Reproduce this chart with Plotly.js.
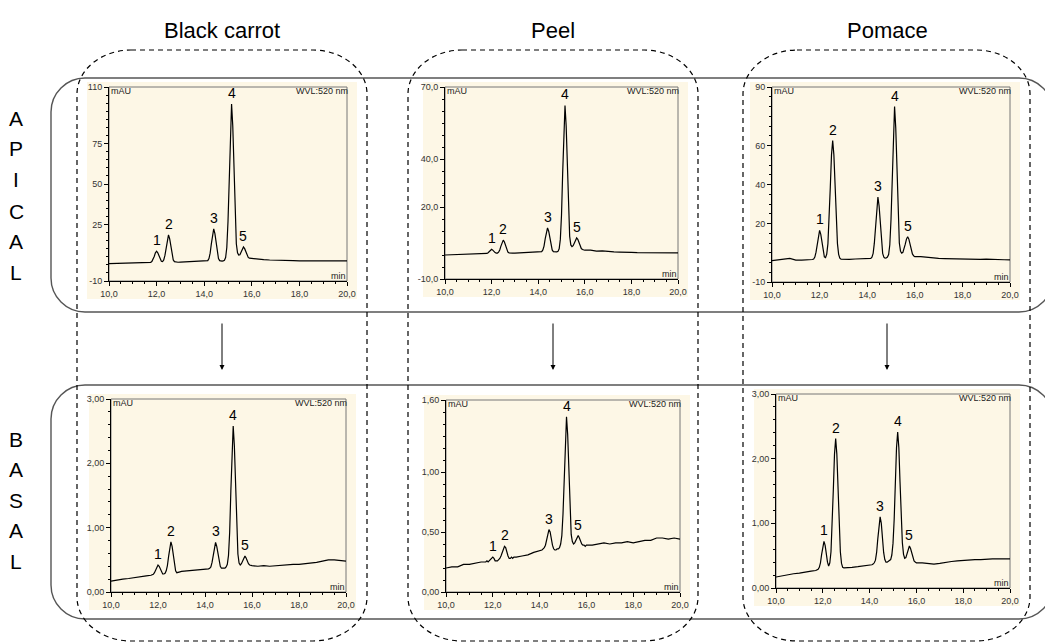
<!DOCTYPE html>
<html>
<head>
<meta charset="utf-8">
<script src="https://cdn.plot.ly/plotly-3.0.1.min.js"></script>
<style>html,body{margin:0;padding:0;background:#fff;}#chart{width:1045px;height:644px;}</style>
</head>
<body>
<div id="chart"></div>
<script>
// ---------- DATA ----------
const columnTitles = ['Black carrot', 'Peel', 'Pomace'];
const rowApical = ['A', 'P', 'I', 'C', 'A', 'L'];
const rowBasal = ['B', 'A', 'S', 'A', 'L'];
const peakLabels = ['1', '2', '3', '4', '5'];

// retention time (min)
const time = [
  10.0,10.25,10.5,10.75,11.0,11.25,11.5,
  11.7,11.75,11.8,11.85,11.9,11.95,12.0,12.05,12.1,12.15,12.2,12.25,12.3,12.35,12.4,12.45,12.5,12.55,12.6,12.65,12.7,12.75,12.8,12.85,12.9,
  13.0,13.25,13.5,13.75,14.0,
  14.1,14.15,14.2,14.25,14.3,14.35,14.4,14.45,14.5,14.55,14.6,14.65,14.7,14.75,14.8,14.85,14.9,14.95,15.0,15.05,15.1,15.15,15.2,15.25,15.3,15.35,15.4,15.45,15.5,15.55,15.6,15.65,15.7,15.75,15.8,15.85,15.9,15.95,16.0,
  16.25,16.5,16.75,17.0,17.25,17.5,17.75,18.0,18.25,18.5,18.75,19.0,19.25,19.5,19.75,20.0
];

// absorbance (mAU)
const apicalBlackCarrot = [
  0.8,0.9,1.0,1.0,1.1,1.2,1.3,
  1.4,1.55,2.0,3.2,5.2,7.4,8.4,7.4,5.2,3.2, 2.2,2.0,3.0,5.8,10.7,16.1,18.5,16.1,10.7,5.8, 3.0,2.0,1.7,1.6,1.6,
  1.7,1.8,1.9,2.0,2.1,
  2.3,2.6,3.9,7.2,13.0,19.3,22.2,19.3,13.0,7.2, 3.9,2.6,2.3,2.3,2.4,2.8,4.5,10.7,26.8,54.9, 85.6,99.5,86.0,55.5,28.0,13.0,7.5,6.0,6.2,7.8, 9.8,11.0,10.0,7.8,5.8,4.6,4.1,4.0,4.0,
  3.6,3.2,3.0,2.8,2.7,2.6,2.6,2.5,2.5,2.5,2.6,2.9,2.7,2.5,2.5,2.5
];
const apicalPeel = [
  0.0,0.1,0.15,0.2,0.25,0.35,0.4,
  0.5,0.5,0.65,0.95,1.45,2.05,2.4,2.05,1.45,1.0, 0.75,0.8,1.2,2.1,3.7,5.4,6.2,5.4,3.7,2.1, 1.2,0.9,0.8,0.8,0.8,
  0.8,0.9,1.0,1.0,1.1,
  1.2,1.4,2.1,3.7,6.7,9.9,11.3,9.9,6.7,3.7, 2.1,1.4,1.3,1.3,1.3,1.5,2.6,6.5,16.6,34.2, 53.6,62.3,53.8,34.6,17.3,7.8,4.2,3.5,3.9,5.2, 6.5,7.1,6.5,5.0,3.6,2.7,2.3,2.1,2.0,
  2.0,1.6,1.7,1.4,1.3,1.2,1.3,1.1,1.0,1.0,1.0,1.0,1.0,0.9,0.9,0.9
];
const apicalPomace = [
  1.0,1.2,1.7,2.1,1.2,1.2,1.3,
  1.55,1.8,2.8,5.3,9.6,14.4,16.5,14.4,9.6,5.3, 2.9,2.5,4.3,9.7,21.0,38.7,55.2,62.5,55.2,38.7, 21.0,9.7,4.2,2.2,1.7,
  1.6,1.6,1.8,1.9,2.0,
  2.0,2.1,2.7,4.7,9.9,19.0,29.0,33.5,29.0,19.0, 9.9,4.7,2.7,2.2,2.3,2.8,4.1,9.1,21.9,44.4, 68.9,80.0,68.9,44.5,22.3,10.0,5.8,4.8,5.2,6.8, 9.4,12.0,13.2,12.0,9.2,6.3,4.4,3.4,3.0,
  3.0,2.6,2.3,2.1,2.0,1.9,1.8,1.7,1.7,1.6,1.6,1.7,1.5,1.4,1.4,1.3
];
const basalBlackCarrot = [
  0.17,0.19,0.20,0.21,0.22,0.24,0.25,
  0.26,0.265,0.275,0.30,0.35,0.40,0.42,0.40,0.35,0.30, 0.28,0.28,0.29,0.33,0.41,0.55,0.71,0.78,0.71,0.55, 0.41,0.33,0.30,0.30,0.31,
  0.32,0.33,0.33,0.34,0.35,
  0.36,0.36,0.37,0.39,0.46,0.58,0.71,0.77,0.71,0.58, 0.46,0.40,0.37,0.37,0.37,0.37,0.39,0.43,0.57,0.93, 1.57,2.27,2.58,2.27,1.57,0.95,0.59,0.45,0.42,0.44, 0.49,0.53,0.56,0.53,0.48,0.44,0.42,0.41,0.41,
  0.40,0.41,0.40,0.41,0.42,0.42,0.43,0.43,0.44,0.44,0.46,0.48,0.50,0.50,0.49,0.48
];
const basalPeel = [
  0.20,0.21,0.21,0.23,0.23,0.24,0.25,
  0.25,0.26,0.25,0.26,0.27,0.28,0.29,0.28,0.26,0.26, 0.26,0.27,0.28,0.30,0.33,0.36,0.38,0.37,0.33,0.30, 0.28,0.28,0.29,0.28,0.29,
  0.29,0.30,0.31,0.33,0.34,
  0.35,0.36,0.37,0.39,0.44,0.50,0.52,0.50,0.44,0.39, 0.36,0.35,0.35,0.36,0.36,0.37,0.40,0.47,0.65,0.96, 1.31,1.46,1.31,0.96,0.66,0.48,0.42,0.40,0.41,0.43, 0.46,0.47,0.45,0.42,0.40,0.39,0.39,0.38,0.39,
  0.39,0.40,0.41,0.40,0.41,0.41,0.42,0.41,0.42,0.43,0.43,0.45,0.45,0.44,0.45,0.44
];
const basalPomace = [
  0.17,0.19,0.21,0.22,0.23,0.24,0.26,
  0.27,0.28,0.29,0.32,0.39,0.52,0.66,0.72,0.66,0.52, 0.40,0.34,0.39,0.56,0.94,1.52,2.07,2.31,2.07,1.52, 0.94,0.56,0.38,0.32,0.31,
  0.31,0.32,0.33,0.34,0.35,
  0.36,0.37,0.39,0.43,0.55,0.76,1.00,1.10,1.00,0.76, 0.55,0.44,0.40,0.40,0.41,0.42,0.44,0.51,0.69,1.06, 1.64,2.17,2.41,2.17,1.64,1.06,0.70,0.52,0.46,0.47, 0.54,0.61,0.65,0.61,0.53,0.46,0.42,0.40,0.39,
  0.39,0.38,0.37,0.38,0.40,0.41,0.42,0.43,0.43,0.44,0.44,0.45,0.45,0.45,0.45,0.45
];

// approximate retention times of the labelled peaks
const peaksApicalBlackCarrot = [12.0, 12.5, 14.4, 15.15, 15.65];
const peaksApicalPeel = [12.0, 12.5, 14.4, 15.15, 15.65];
const peaksApicalPomace = [12.0, 12.55, 14.45, 15.15, 15.7];
const peaksBasalBlackCarrot = [12.0, 12.55, 14.45, 15.2, 15.7];
const peaksBasalPeel = [12.0, 12.5, 14.4, 15.15, 15.65];
const peaksBasalPomace = [12.05, 12.55, 14.45, 15.2, 15.7];

// axis ranges and ticks
const xRange = [10, 20];
const xTickVals = [10, 12, 14, 16, 18, 20];
const xTickText = ['10,0', '12,0', '14,0', '16,0', '18,0', '20,0'];
const yRangeApicalBlackCarrot = [-10, 110];
const yTickValsApicalBlackCarrot = [-10, 25, 50, 75, 110];
const yTickTextApicalBlackCarrot = ['-10', '25', '50', '75', '110'];
const yRangeApicalPeel = [-10, 70];
const yTickValsApicalPeel = [-10, 20, 40, 70];
const yTickTextApicalPeel = ['-10,0', '20,0', '40,0', '70,0'];
const yRangeApicalPomace = [-10, 90];
const yTickValsApicalPomace = [-10, 20, 40, 60, 90];
const yTickTextApicalPomace = ['-10', '20', '40', '60', '90'];
const yRangeBasalBlackCarrot = [0, 3];
const yTickValsBasalBlackCarrot = [0, 1, 2, 3];
const yTickTextBasalBlackCarrot = ['0,00', '1,00', '2,00', '3,00'];
const yRangeBasalPeel = [0, 1.6];
const yTickValsBasalPeel = [0, 0.5, 1, 1.6];
const yTickTextBasalPeel = ['0,00', '0,50', '1,00', '1,60'];
const yRangeBasalPomace = [0, 3];
const yTickValsBasalPomace = [0, 1, 2, 3];
const yTickTextBasalPomace = ['0,00', '1,00', '2,00', '3,00'];
const unitLabel = 'mAU';
const wavelengthLabel = 'WVL:520 nm';
const timeUnitLabel = 'min';

// ---------- LAYOUT (pixel geometry) ----------
const W = 1045, H = 644;
const PX = v => v / W;
const PY = v => 1 - v / H;
const FONT = '"Liberation Sans", Arial, Helvetica, sans-serif';

const panels = [
  {y: apicalBlackCarrot, peaks: peaksApicalBlackCarrot, yr: yRangeApicalBlackCarrot, tv: yTickValsApicalBlackCarrot, tt: yTickTextApicalBlackCarrot, minor: 5, box: [109, 87, 347, 281]},
  {y: apicalPeel, peaks: peaksApicalPeel, yr: yRangeApicalPeel, tv: yTickValsApicalPeel, tt: yTickTextApicalPeel, minor: 5, box: [445, 87, 678, 279]},
  {y: apicalPomace, peaks: peaksApicalPomace, yr: yRangeApicalPomace, tv: yTickValsApicalPomace, tt: yTickTextApicalPomace, minor: 5, box: [772, 87, 1010, 282]},
  {y: basalBlackCarrot, peaks: peaksBasalBlackCarrot, yr: yRangeBasalBlackCarrot, tv: yTickValsBasalBlackCarrot, tt: yTickTextBasalBlackCarrot, minor: 0.2, box: [111, 399, 346, 592]},
  {y: basalPeel, peaks: peaksBasalPeel, yr: yRangeBasalPeel, tv: yTickValsBasalPeel, tt: yTickTextBasalPeel, minor: 0.1, box: [446, 400, 680, 592]},
  {y: basalPomace, peaks: peaksBasalPomace, yr: yRangeBasalPomace, tv: yTickValsBasalPomace, tt: yTickTextBasalPomace, minor: 0.2, box: [776, 394, 1010, 588]}
];

const traces = [];
const layout = {
  width: W, height: H,
  margin: {l: 0, r: 0, t: 0, b: 0},
  paper_bgcolor: '#ffffff',
  plot_bgcolor: 'rgba(0,0,0,0)',
  showlegend: false,
  font: {family: FONT, color: '#000'},
  shapes: [],
  annotations: []
};

const tickFont = {family: FONT, size: 9, color: '#333'};
const smallFont = {family: FONT, size: 9, color: '#222'};

panels.forEach((p, i) => {
  const n = i + 1;
  const xs = n === 1 ? '' : String(n);
  const [x0, y0, x1, y1] = p.box;
  traces.push({
    x: time, y: p.y, type: 'scatter', mode: 'lines',
    xaxis: 'x' + xs, yaxis: 'y' + xs,
    line: {color: '#000', width: 1.2}, hoverinfo: 'skip'
  });
  layout['xaxis' + xs] = {
    domain: [PX(x0), PX(x1)], range: xRange, anchor: 'y' + xs,
    tickmode: 'array', tickvals: xTickVals, ticktext: xTickText,
    ticks: 'outside', ticklen: 4, tickcolor: '#000', tickwidth: 1,
    minor: {tickmode: 'linear', tick0: 10, dtick: 0.5, ticks: 'outside', ticklen: 2, tickcolor: '#000'},
    showline: true, linecolor: '#000', linewidth: 1,
    showgrid: false, zeroline: false, tickfont: tickFont, fixedrange: true
  };
  layout['yaxis' + xs] = {
    domain: [PY(y1), PY(y0)], range: p.yr, anchor: 'x' + xs,
    tickmode: 'array', tickvals: p.tv, ticktext: p.tt,
    ticks: 'outside', ticklen: 4, tickcolor: '#000', tickwidth: 1,
    minor: {tickmode: 'linear', tick0: 0, dtick: p.minor, ticks: 'outside', ticklen: 2, tickcolor: '#000'},
    showline: true, linecolor: '#000', linewidth: 1,
    showgrid: false, zeroline: false, tickfont: tickFont, fixedrange: true
  };
  // beige chart background
  layout.shapes.push({
    type: 'rect', xref: 'paper', yref: 'paper', layer: 'below',
    x0: PX(x0 - 22), x1: PX(x1 + 10), y0: PY(y1 + 18), y1: PY(y0 - 5),
    fillcolor: '#FDF7E6', line: {width: 0}
  });
  // gray frame (top/right)
  layout.shapes.push({
    type: 'rect', xref: 'x' + xs + ' domain', yref: 'y' + xs + ' domain', layer: 'below',
    x0: 0, x1: 1, y0: 0, y1: 1, line: {color: '#777', width: 1}
  });
  // header texts
  layout.annotations.push({
    xref: 'x' + xs + ' domain', yref: 'y' + xs + ' domain', x: 0, y: 1,
    xanchor: 'left', yanchor: 'top', yshift: 3, text: unitLabel, showarrow: false, font: smallFont
  });
  layout.annotations.push({
    xref: 'x' + xs + ' domain', yref: 'y' + xs + ' domain', x: 1, y: 1,
    xanchor: 'right', yanchor: 'top', yshift: 3, xshift: 3, text: wavelengthLabel, showarrow: false, font: smallFont
  });
  layout.annotations.push({
    xref: 'x' + xs + ' domain', yref: 'y' + xs + ' domain', x: 1, y: 0,
    xanchor: 'right', yanchor: 'bottom', yshift: -2, xshift: 1, text: timeUnitLabel, showarrow: false, font: smallFont
  });
  // peak labels at the local maxima of the data
  p.peaks.forEach((pt, k) => {
    let best = -Infinity, bt = pt;
    time.forEach((t, j) => {
      if (Math.abs(t - pt) <= 0.1 && p.y[j] > best) { best = p.y[j]; bt = t; }
    });
    layout.annotations.push({
      xref: 'x' + xs, yref: 'y' + xs, x: bt, y: best,
      xanchor: 'center', yanchor: 'bottom', yshift: 1,
      text: peakLabels[k], showarrow: false,
      font: {family: FONT, size: 14, color: '#000'}
    });
  });
});

// rounded rectangle path in pixel coords -> paper coords
function roundRect(x0, y0, x1, y1, rx, ry) {
  const X = v => PX(v).toFixed(5), Y = v => PY(v).toFixed(5);
  return `M${X(x0 + rx)},${Y(y0)} L${X(x1 - rx)},${Y(y0)} C${X(x1 - rx * 0.45)},${Y(y0)} ${X(x1)},${Y(y0 + ry * 0.45)} ${X(x1)},${Y(y0 + ry)} ` +
         `L${X(x1)},${Y(y1 - ry)} C${X(x1)},${Y(y1 - ry * 0.45)} ${X(x1 - rx * 0.45)},${Y(y1)} ${X(x1 - rx)},${Y(y1)} ` +
         `L${X(x0 + rx)},${Y(y1)} C${X(x0 + rx * 0.45)},${Y(y1)} ${X(x0)},${Y(y1 - ry * 0.45)} ${X(x0)},${Y(y1 - ry)} ` +
         `L${X(x0)},${Y(y0 + ry)} C${X(x0)},${Y(y0 + ry * 0.45)} ${X(x0 + rx * 0.45)},${Y(y0)} ${X(x0 + rx)},${Y(y0)} Z`;
}

// row frames (solid)
[[51, 78, 1053, 312], [51, 385, 1053, 619]].forEach(b => {
  layout.shapes.push({
    type: 'path', xref: 'paper', yref: 'paper', layer: 'above',
    path: roundRect(b[0], b[1], b[2], b[3], 34, 34),
    line: {color: '#555', width: 1.4}
  });
});
// column frames (dashed)
[[77, 50, 367, 641], [408, 50, 698, 641], [743, 50, 1030, 641]].forEach(b => {
  layout.shapes.push({
    type: 'path', xref: 'paper', yref: 'paper', layer: 'above',
    path: roundRect(b[0], b[1], b[2], b[3], 54, 44),
    line: {color: '#000', width: 1.2, dash: '5px,4px'}
  });
});

// column titles and arrows
const colCenters = [222, 553, 887];
columnTitles.forEach((t, i) => {
  layout.annotations.push({
    xref: 'paper', yref: 'paper', x: PX(colCenters[i]), y: PY(30),
    xanchor: 'center', yanchor: 'middle', text: t, showarrow: false,
    font: {family: FONT, size: 22, color: '#000'}
  });
  layout.annotations.push({
    xref: 'paper', yref: 'paper', x: PX(colCenters[i]), y: PY(370),
    ax: 0, ay: -48, text: '', showarrow: true,
    arrowhead: 2, arrowsize: 1, arrowwidth: 1, arrowcolor: '#000'
  });
});

// row letters
const apicalY = [119, 149, 180, 211, 241, 272];
rowApical.forEach((c, i) => {
  layout.annotations.push({
    xref: 'paper', yref: 'paper', x: PX(16), y: PY(apicalY[i]),
    xanchor: 'center', yanchor: 'middle', text: c, showarrow: false,
    font: {family: FONT, size: 21, color: '#000'}
  });
});
const basalY = [439, 469, 500, 530, 561];
rowBasal.forEach((c, i) => {
  layout.annotations.push({
    xref: 'paper', yref: 'paper', x: PX(16), y: PY(basalY[i]),
    xanchor: 'center', yanchor: 'middle', text: c, showarrow: false,
    font: {family: FONT, size: 21, color: '#000'}
  });
});

Plotly.newPlot('chart', traces, layout, {displayModeBar: false, staticPlot: true});
</script>
</body>
</html>
